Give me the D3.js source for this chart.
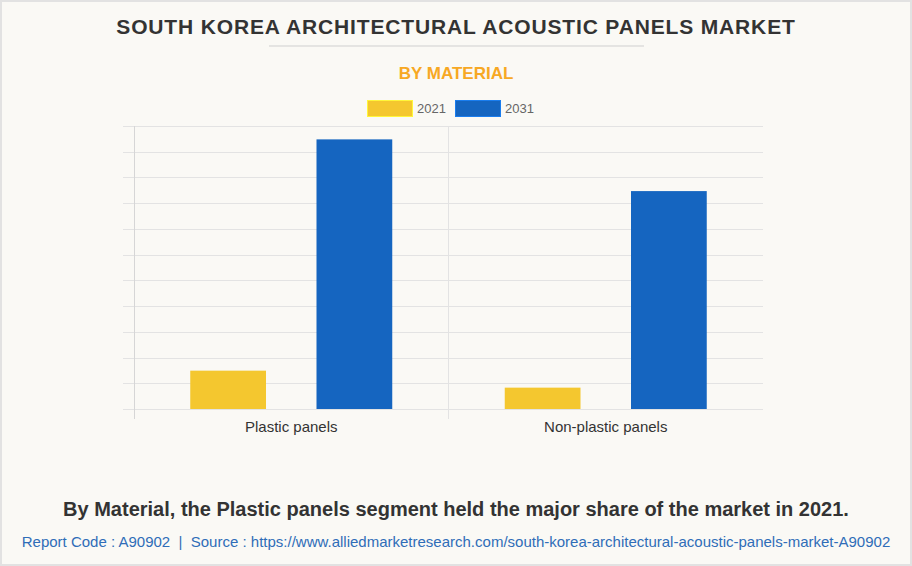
<!DOCTYPE html>
<meta charset="utf-8">
<head>
    <style>
        body {
            margin: 0;
            background: #fff;
        }
        .frame {
            fill: #faf9f5;
            stroke: #e2e2e2;
            stroke-width: 2px;
        }
        .grid line {
            stroke: #e3e3e3;
            stroke-width: 1px;
            shape-rendering: crispEdges;
        }
        .grid path {
            display: none;
        }
        text {
            font-family: "Liberation Sans", Arial, sans-serif;
        }
    </style>
</head>
<body>
<script src="https://d3js.org/d3.v7.min.js"></script>
<script>

    // values (no labels on the value axis)
    var categories = ["Plastic panels", "Non-plastic panels"];
    var years = ["2021", "2031"];
    var values2021 = [14.9, 8.3];
    var values2031 = [104.8, 84.7];
    var colors = ["#f4c72f", "#1565c0"];
    var yTicks = d3.range(0, 111, 10);

    var W = 912, H = 566;
    var margin = {top: 126, right: 149, bottom: 157, left: 134},
        width = W - margin.left - margin.right,
        height = H - margin.top - margin.bottom;

    var data = categories.map(function (c, i) {
        return {cat: c, vals: [values2021[i], values2031[i]]};
    });

    var svg = d3.select("body").append("svg")
        .attr("width", W)
        .attr("height", H);

    svg.append("rect")
        .attr("class", "frame")
        .attr("x", 1).attr("y", 1)
        .attr("width", W - 2).attr("height", H - 2);

    // titles
    svg.append("text")
        .attr("x", W / 2).attr("y", 34)
        .attr("text-anchor", "middle")
        .style("font-size", "21px")
        .style("font-weight", "bold")
        .style("letter-spacing", "0.85px")
        .attr("fill", "#333")
        .text("SOUTH KOREA ARCHITECTURAL ACOUSTIC PANELS MARKET");

    svg.append("line")
        .attr("x1", 269).attr("x2", 644)
        .attr("y1", 46).attr("y2", 46)
        .attr("stroke", "#cfcfcf").attr("stroke-width", 1);

    svg.append("text")
        .attr("x", W / 2).attr("y", 79)
        .attr("text-anchor", "middle")
        .style("font-size", "17px")
        .style("font-weight", "bold")
        .attr("fill", "#f7a823")
        .text("BY MATERIAL");

    // legend
    var legend = svg.append("g").attr("transform", "translate(367,100)");
    years.forEach(function (yr, i) {
        var g = legend.append("g").attr("transform", "translate(" + (i * 88) + ",0)");
        g.append("rect")
            .attr("x", 0.5).attr("y", 0.5)
            .attr("width", 45).attr("height", 16)
            .attr("fill", colors[i])
            .attr("stroke", d3.color(colors[i]).brighter(0.6));
        g.append("text")
            .attr("x", 50).attr("y", 13)
            .style("font-size", "13px")
            .attr("fill", "#666")
            .text(yr);
    });

    var chart = svg.append("g")
        .attr("transform", "translate(" + margin.left + "," + margin.top + ")");

    var x0 = d3.scaleBand()
        .domain(categories)
        .range([0, width]);

    var groupW = 202;
    var x1 = d3.scaleBand()
        .domain(years)
        .range([0, groupW])
        .paddingInner(0.4);

    var y = d3.scaleLinear()
        .domain([0, 110])
        .range([height, 0]);

    // horizontal gridlines, reaching a little left of the axis
    chart.append("g")
        .attr("class", "grid")
        .attr("transform", "translate(-11,0)")
        .call(d3.axisRight(y).tickValues(yTicks).tickSize(width + 11).tickFormat(""));

    // vertical axis line and category separators
    chart.append("line")
        .attr("x1", 0).attr("x2", 0)
        .attr("y1", 0).attr("y2", height + 10)
        .attr("stroke", "#d6d6d6")
        .attr("shape-rendering", "crispEdges");

    chart.selectAll(".sep")
        .data(categories.slice(1))
        .enter().append("line")
        .attr("class", "sep")
        .attr("x1", function (d) { return x0(d); })
        .attr("x2", function (d) { return x0(d); })
        .attr("y1", 0).attr("y2", height + 10)
        .attr("stroke", "#e3e3e3")
        .attr("shape-rendering", "crispEdges");

    // bars
    var groups = chart.selectAll(".group")
        .data(data)
        .enter().append("g")
        .attr("class", "group")
        .attr("transform", function (d) {
            return "translate(" + (x0(d.cat) + (x0.bandwidth() - groupW) / 2) + ",0)";
        });

    groups.selectAll("rect")
        .data(function (d) {
            return d.vals.map(function (v, i) { return {year: years[i], v: v, i: i}; });
        })
        .enter().append("rect")
        .attr("x", function (d) { return x1(d.year); })
        .attr("width", x1.bandwidth())
        .attr("y", function (d) { return y(d.v); })
        .attr("height", function (d) { return height - y(d.v); })
        .attr("fill", function (d) { return colors[d.i]; });

    // category labels
    chart.selectAll(".cat")
        .data(categories)
        .enter().append("text")
        .attr("class", "cat")
        .attr("x", function (d) { return x0(d) + x0.bandwidth() / 2; })
        .attr("y", height + 23)
        .attr("text-anchor", "middle")
        .style("font-size", "15px")
        .attr("fill", "#333")
        .text(function (d) { return d; });

    // footer
    svg.append("text")
        .attr("x", W / 2).attr("y", 516)
        .attr("text-anchor", "middle")
        .style("font-size", "20px")
        .style("font-weight", "bold")
        .attr("fill", "#333")
        .text("By Material, the Plastic panels segment held the major share of the market in 2021.");

    svg.append("text")
        .attr("x", W / 2).attr("y", 547)
        .attr("text-anchor", "middle")
        .style("font-size", "15px")
        .style("white-space", "pre")
        .attr("fill", "#2f6db8")
        .text("Report Code : A90902  |  Source : https://www.alliedmarketresearch.com/south-korea-architectural-acoustic-panels-market-A90902");

</script>
</body>
